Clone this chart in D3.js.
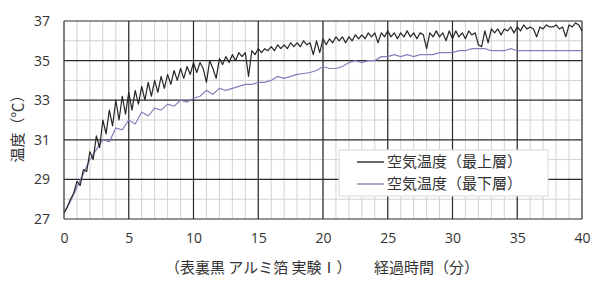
<!DOCTYPE html>
<html>
<head>
<meta charset="utf-8">
<script src="https://cdn.jsdelivr.net/npm/d3@7"></script>
<style>
  body { margin: 0; background: #fff; }
  svg { display: block; font-family: "Noto Sans CJK JP", "Noto Sans", sans-serif; }
</style>
</head>
<body>
<svg id="chart" width="600" height="286"></svg>
<script>
// minutes, sampled every 0.25 (top layer) and 0.5 (bottom layer)
const topStep = 0.25;
const topLayer = [
  27.3, 27.6, 28.0, 28.3, 28.9, 28.7, 29.5, 29.4, 30.4, 30.0, 31.2, 30.6,
  32.0, 31.3, 32.5, 31.7, 33.0, 32.0, 33.2, 32.3, 33.4, 32.5, 33.5, 32.8,
  33.7, 33.0, 33.9, 33.2, 34.0, 33.4, 34.2, 33.6, 34.3, 33.8, 34.5, 34.0,
  34.6, 34.1, 34.7, 34.3, 34.9, 34.4, 34.9, 34.6, 33.9, 35.0, 34.6, 34.1,
  35.1, 34.8, 35.2, 34.9, 35.3, 35.0, 35.4, 35.2, 35.4, 34.2, 35.5, 35.3,
  35.6, 35.4, 35.6, 35.5, 35.7, 35.5, 35.8, 35.6, 35.8, 35.6, 35.9, 35.7,
  35.9, 35.7, 36.0, 35.8, 35.9, 35.3, 36.0, 35.4, 36.1, 35.8, 36.1, 35.9,
  36.2, 36.0, 36.2, 35.9, 36.2, 36.0, 36.3, 36.1, 36.3, 36.1, 36.4, 36.2,
  36.4, 35.9, 36.4, 36.2, 36.5, 36.2, 36.4, 36.1, 36.4, 36.2, 36.5, 36.2,
  36.4, 36.1, 36.4, 36.3, 35.6, 36.4, 36.2, 36.5, 36.2, 36.4, 36.0, 36.5,
  36.1, 36.5, 36.2, 36.4, 36.1, 36.5, 36.3, 36.4, 35.8, 35.7, 36.5, 35.9,
  36.6, 36.4, 36.6, 36.3, 36.6, 36.5, 36.7, 36.4, 36.7, 36.5, 36.8, 36.6,
  36.7, 36.6, 36.2, 36.7, 36.6, 36.8, 36.7, 36.7, 36.8, 36.6, 36.7, 36.2,
  36.8, 36.7, 36.9, 36.8, 36.5
];
const bottomStep = 0.5;
const bottomLayer = [
  27.3, 27.9, 28.6, 29.3, 30.0, 30.5, 31.0, 30.9, 31.6, 31.5, 32.0, 31.8,
  32.4, 32.2, 32.6, 32.5, 32.8, 32.7, 33.0, 32.9, 33.1, 33.2, 33.5, 33.3,
  33.6, 33.5, 33.6, 33.7, 33.8, 33.8, 33.9, 33.9, 34.0, 34.2, 34.1, 34.2,
  34.3, 34.35, 34.4, 34.5, 34.7, 34.6, 34.6, 34.7, 34.9, 35.0, 34.9, 35.0,
  35.0, 35.2, 35.2, 35.3, 35.2, 35.3, 35.2, 35.3, 35.3, 35.3, 35.4, 35.4,
  35.4, 35.5, 35.5, 35.6, 35.6, 35.6, 35.5, 35.5, 35.5, 35.6, 35.5, 35.5,
  35.5, 35.5, 35.5, 35.5, 35.5, 35.5, 35.5, 35.5, 35.5
];
const xTicks = [0, 5, 10, 15, 20, 25, 30, 35, 40];
const yTicks = [27, 29, 31, 33, 35, 37];
const seriesNames = ['空気温度（最上層）', '空気温度（最下層）'];
const seriesColors = ['#262626', '#8a7bbb'];

const svg = d3.select('#chart');
const plotL = 64, plotR = 582, plotT = 21, plotB = 219;

const x = d3.scaleLinear().domain([0, 40]).range([plotL, plotR]);
const y = d3.scaleLinear().domain([27, 37]).range([plotB, plotT]);

// minor grid
const grid = svg.append('g');
grid.selectAll('line.vminor').data(d3.range(1, 40))
  .enter().append('line')
  .attr('x1', d => x(d)).attr('x2', d => x(d))
  .attr('y1', plotT).attr('y2', plotB)
  .attr('stroke', '#d2d2d2').attr('stroke-width', 1);
grid.selectAll('line.hminor').data(d3.range(28, 37, 2))
  .enter().append('line')
  .attr('x1', plotL).attr('x2', plotR)
  .attr('y1', d => y(d)).attr('y2', d => y(d))
  .attr('stroke', '#d2d2d2').attr('stroke-width', 1);

// major grid
grid.selectAll('line.vmajor').data(xTicks)
  .enter().append('line')
  .attr('x1', d => x(d)).attr('x2', d => x(d))
  .attr('y1', plotT).attr('y2', plotB)
  .attr('stroke', '#2a2a2a').attr('stroke-width', 1.2);
grid.selectAll('line.hmajor').data(yTicks)
  .enter().append('line')
  .attr('x1', plotL).attr('x2', plotR)
  .attr('y1', d => y(d)).attr('y2', d => y(d))
  .attr('stroke', '#2a2a2a').attr('stroke-width', 1.2);

// axes (labels only)
const xAxis = svg.append('g')
  .attr('transform', 'translate(0,' + (plotB + 8) + ')')
  .call(d3.axisBottom(x).tickValues(xTicks).tickSize(0).tickPadding(6));
const yAxis = svg.append('g')
  .attr('transform', 'translate(' + (plotL - 14) + ',0)')
  .call(d3.axisLeft(y).tickValues(yTicks).tickSize(0).tickPadding(0));
[xAxis, yAxis].forEach(a => {
  a.select('.domain').remove();
  a.selectAll('text').attr('font-size', 14).attr('fill', '#333')
    .attr('font-family', '"Open Sans", "Noto Sans", sans-serif');
});

// lines
const line = step => d3.line().x((d, i) => x(i * step)).y(d => y(d));
svg.append('path').datum(bottomLayer)
  .attr('d', line(bottomStep))
  .attr('fill', 'none').attr('stroke', seriesColors[1]).attr('stroke-width', 1.2);
svg.append('path').datum(topLayer)
  .attr('d', line(topStep))
  .attr('fill', 'none').attr('stroke', seriesColors[0]).attr('stroke-width', 1.2)
  .attr('stroke-linejoin', 'round');

// legend
const legend = svg.append('g').attr('transform', 'translate(339,150)');
legend.append('rect')
  .attr('width', 209).attr('height', 46)
  .attr('fill', '#fff').attr('stroke', '#d8d8d8');
seriesNames.forEach((name, i) => {
  const ly = 12 + i * 22;
  legend.append('line')
    .attr('x1', 18).attr('x2', 45).attr('y1', ly).attr('y2', ly)
    .attr('stroke', seriesColors[i]).attr('stroke-width', 1.4);
  legend.append('text')
    .attr('x', 48).attr('y', ly).attr('dy', '0.35em')
    .attr('font-size', 15).attr('fill', '#333')
    .text(name);
});

// axis titles
svg.append('text')
  .attr('x', 165).attr('y', 268).attr('dy', '0.35em')
  .attr('font-size', 15).attr('fill', '#333')
  .text('（表裏黒 アルミ箔 実験Ⅰ）');
svg.append('text')
  .attr('x', 374).attr('y', 268).attr('dy', '0.35em')
  .attr('font-size', 15).attr('fill', '#333')
  .text('経過時間（分）');
svg.append('text')
  .attr('transform', 'translate(18,125) rotate(-90)')
  .attr('text-anchor', 'middle').attr('dy', '0.35em')
  .attr('font-size', 15).attr('fill', '#333')
  .text('温度（℃）');
</script>
</body>
</html>
